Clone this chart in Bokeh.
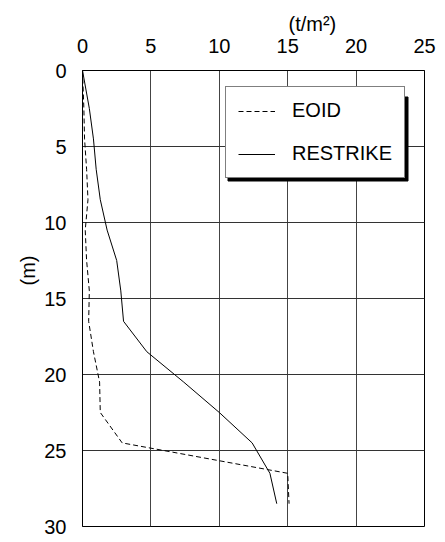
from bokeh.plotting import figure
from bokeh.models import Legend, LegendItem, FixedTicker, Range1d, Title
from bokeh.embed import file_html
from bokeh.resources import INLINE

# ---- data ----
depth = [0, 2.5, 4.5, 6.5, 8.5, 10.5, 12.5, 14.5, 16.5, 18.5, 20.5, 22.5, 24.5, 26.5, 28.5]
eoid = [0.0, 0.1, 0.15, 0.3, 0.4, 0.2, 0.3, 0.5, 0.45, 0.8, 1.25, 1.3, 2.9, 15.0, 15.1]
restrike = [0.0, 0.5, 0.8, 1.0, 1.3, 1.8, 2.5, 2.8, 3.0, 4.7, 7.4, 10.0, 12.4, 13.7, 14.2]
x_ticks = [0, 5, 10, 15, 20, 25]
y_ticks = [0, 5, 10, 15, 20, 25, 30]
series_names = ["EOID", "RESTRIKE"]
x_title = "(t/m²)"
y_title = "(m)"

FONT = "Liberation Sans"
W, H = 445, 542
FL, FR, FT, FB = 82, 424, 70, 526  # frame edges in canvas px

p = figure(width=W, height=H, output_backend="svg", toolbar_location=None,
           x_range=Range1d(0, 25), y_range=Range1d(30, 0),
           x_axis_location="above",
           min_border_left=FL, min_border_right=W - FR,
           min_border_top=FT, min_border_bottom=H - FB)
p.outline_line_color = "black"
p.outline_line_width = 1
p.background_fill_color = "white"
p.border_fill_color = "white"

for ax, ticks in ((p.xaxis[0], x_ticks), (p.yaxis[0], y_ticks)):
    ax.ticker = FixedTicker(ticks=ticks)
    ax.major_tick_line_color = None
    ax.minor_tick_line_color = None
    ax.axis_line_color = "black"
    ax.major_label_text_font = FONT
    ax.major_label_text_font_size = "20px"
    ax.major_label_text_color = "black"
    ax.major_tick_out = 0
    ax.major_tick_in = 0
p.xaxis.major_label_standoff = 18
p.yaxis.major_label_standoff = 16

p.xgrid.ticker = FixedTicker(ticks=x_ticks)
p.ygrid.ticker = FixedTicker(ticks=y_ticks)
p.xgrid.grid_line_color = "#444444"
p.ygrid.grid_line_color = "#333333"
p.xgrid.grid_line_width = 1
p.ygrid.grid_line_width = 1

sx = (FR - FL) / 25.0
sy = (FB - FT) / 30.0

# legend geometry (canvas px)
LG_L, LG_T, LG_W, LG_H = 225, 94, 180, 84
SH = 2.5
# shadow box in data units
p.quad(left=[(LG_L + SH - FL) / sx], right=[(LG_L + LG_W + SH - FL) / sx],
       top=[(LG_T + SH - FT) / sy], bottom=[(LG_T + LG_H + SH - FT) / sy],
       fill_color="black", line_color="black", level="overlay")

r1 = p.line(eoid, depth, line_color="black", line_width=1, line_dash="5 3")
r2 = p.line(restrike, depth, line_color="black", line_width=1)

legend = Legend(items=[LegendItem(label=series_names[0], renderers=[r1]),
                       LegendItem(label=series_names[1], renderers=[r2])],
                location=(LG_L - FL, FB - (LG_T + LG_H)))
legend.label_text_font = FONT
legend.label_text_font_size = "20px"
legend.label_text_color = "black"
legend.glyph_width = 37
legend.glyph_height = 20
legend.label_height = 20
legend.label_standoff = 17
legend.spacing = 20
legend.padding = 12
legend.margin = 0
legend.border_line_color = "black"
legend.border_line_width = 1
legend.background_fill_alpha = 1.0
legend.background_fill_color = "white"
p.add_layout(legend)

tx = Title(text=x_title, align="left", offset=288 - FL, standoff=2,
           text_font=FONT, text_font_size="20px", text_font_style="normal",
           text_color="black")
p.add_layout(tx, "above")
ty = Title(text=y_title, align="left", offset=FB - 285, standoff=5,
           text_font=FONT, text_font_size="20px", text_font_style="normal",
           text_color="black")
p.add_layout(ty, "left")

open("out.html", "w").write(file_html(p, INLINE))
